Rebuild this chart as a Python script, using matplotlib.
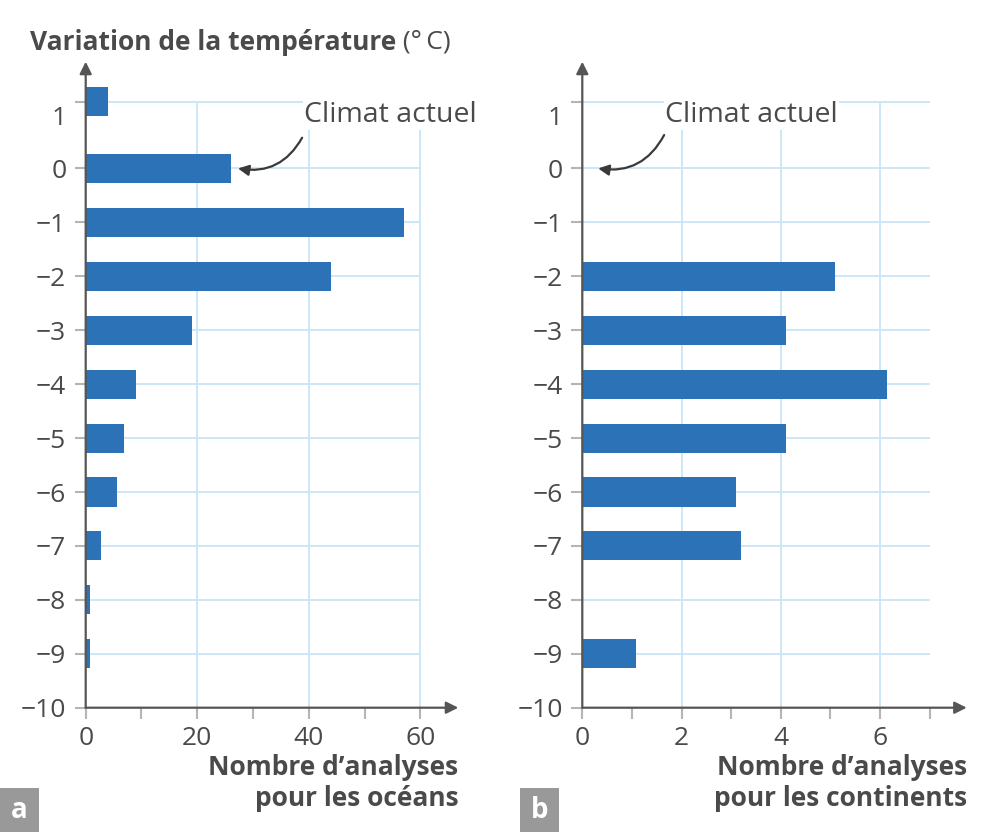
import matplotlib.pyplot as plt
from matplotlib.transforms import ScaledTranslation
from matplotlib.patches import Rectangle

plt.rcParams['font.family'] = ['Open Sans', 'DejaVu Sans']

# temperature variation classes (°C)
temps = [1, 0, -1, -2, -3, -4, -5, -6, -7, -8, -9]
# number of analyses, oceans (panel a)
oceans = [4, 26, 57, 44, 19, 9.1, 6.8, 5.7, 2.8, 0.8, 0.8]
# number of analyses, continents (panel b)
continents = [0, 0, 0, 5.1, 4.1, 6.15, 4.1, 3.1, 3.2, 0, 1.08]

ytick_labels = ['1', '0', '\u22121', '\u22122', '\u22123', '\u22124', '\u22125',
                '\u22126', '\u22127', '\u22128', '\u22129', '\u221210']

# the top class sits a bit higher than the regular spacing in the original
ypos = [1.24 if t == 1 else t for t in temps]

BAR = '#2b73b6'
GRID = '#c9e5f7'
AXC = '#555555'
TXT = '#4a4a4a'
TICKC = '#b5b5b5'

fig = plt.figure(figsize=(9.92, 8.32), dpi=100)
W, H = 992., 832.


def make_panel(left_px, right_px, xmax, values, gridx, gridx_end, xticks, xlabels, note_xy, note_tip, note_start):
    ax = fig.add_axes([left_px / W, 1 - 707.7 / H, (right_px - left_px) / W, (707.7 - 61.7) / H])
    ax.set_xlim(0, xmax)
    ax.set_ylim(-10, 1.98)
    for s in ax.spines.values():
        s.set_visible(False)

    # grid
    ax.hlines(ypos, 0, gridx_end, color=GRID, lw=1.3, zorder=1)
    ax.vlines(gridx, -10, 1.24, color=GRID, lw=1.3, zorder=1)

    ax.barh(ypos, values, height=0.54, color=BAR, zorder=2)

    # axes with arrows
    ax.annotate('', xy=(0, 1), xytext=(0, 0), xycoords='axes fraction',
                arrowprops=dict(arrowstyle='-|>', color=AXC, lw=1.6, mutation_scale=18, shrinkA=0, shrinkB=0))
    ax.annotate('', xy=(1, 0), xytext=(0, 0), xycoords='axes fraction',
                arrowprops=dict(arrowstyle='-|>', color=AXC, lw=1.6, mutation_scale=18, shrinkA=0, shrinkB=0))

    ax.set_yticks(ypos + [-10])
    ax.set_yticklabels(ytick_labels)
    ax.set_xticks(xticks)
    ax.set_xticklabels(xlabels)
    ax.tick_params(axis='both', colors=TICKC, width=1.5, length=8, labelsize=19, labelcolor=TXT)
    ax.tick_params(axis='y', pad=6)
    ax.tick_params(axis='x', pad=5)
    # shift the "1" label down to where the original prints it
    lbl = ax.get_yticklabels()[0]
    lbl.set_transform(lbl.get_transform() + ScaledTranslation(0, -14 / 100., fig.dpi_scale_trans))

    # "Climat actuel" annotation
    ax.text(note_xy[0], note_xy[1], 'Climat actuel', fontsize=20.5, color=TXT, va='center', ha='left',
            zorder=4, bbox=dict(facecolor='white', edgecolor='none', pad=1))
    ax.annotate('', xy=note_tip, xytext=note_start,
                arrowprops=dict(arrowstyle='-|>', color='#3a3a3a', lw=1.6, mutation_scale=16,
                                connectionstyle='arc3,rad=-0.35', shrinkA=0, shrinkB=0), zorder=5)
    return ax


ax1 = make_panel(85.7, 458.3, 66.8, oceans, [20, 40, 60], 60,
                 list(range(0, 70, 10)), ['0', '', '20', '', '40', '', '60'],
                 (39.2, 1.0), (27.3, 0), (38.8, 0.57))
ax2 = make_panel(582.3, 966.7, 7.75, continents, [2, 4, 6], 7,
                 list(range(0, 8)), ['0', '', '2', '', '4', '', '6', ''],
                 (1.67, 1.0), (0.32, 0), (1.65, 0.62))

# title of y axis
t = fig.text(30 / W, 1 - 42 / H, 'Variation de la temp\u00e9rature', fontsize=19, fontweight='bold',
             color=TXT, va='center', ha='left')
ax1.annotate(' (\u00b0\u2009C)', xy=(1, 0.5), xycoords=t, va='center', ha='left', fontsize=19, color=TXT,
             annotation_clip=False, family=['Open Sans', 'DejaVu Sans'])

# x axis labels
fig.text(458.3 / W, 1 - 754 / H, 'Nombre d\u2019analyses\npour les oc\u00e9ans', fontsize=19,
         fontweight='bold', color=TXT, ha='right', va='top', linespacing=1.2)
fig.text(966.7 / W, 1 - 754 / H, 'Nombre d\u2019analyses\npour les continents', fontsize=19,
         fontweight='bold', color=TXT, ha='right', va='top', linespacing=1.2)

# panel letters
for x0, letter in [(0, 'a'), (520, 'b')]:
    fig.patches.append(Rectangle((x0 / W, 0), 39 / W, 44 / H, transform=fig.transFigure,
                                 facecolor='#999999', edgecolor='none'))
    fig.text((x0 + 19.5) / W, 22 / H, letter, fontsize=20, fontweight='bold', color='white',
             ha='center', va='center')

fig.savefig('out.png', dpi=100, facecolor='white')
